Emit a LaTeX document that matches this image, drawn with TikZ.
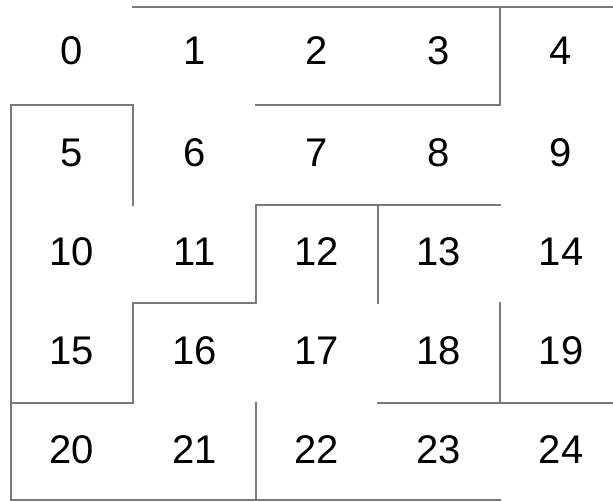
\documentclass[tikz,border=0pt]{standalone}
\usepackage{fontspec}
\setmainfont{Liberation Sans}
\begin{document}
\begin{tikzpicture}[x=1pt,y=-1pt,
  wall/.style={draw=black!52,line width=1.5pt,line cap=rect},
  num/.style={font=\fontsize{40}{40}\selectfont,text=black,inner sep=0pt}]
\useasboundingbox (0,0) rectangle (613,502);
% cells
\foreach \r/\yy in {0/51,1/153,2/252,3/351,4/450}{
  \foreach \c/\xx in {0/72,1/194.5,2/317,3/439,4/561}{
    \pgfmathtruncatemacro{\n}{\r*5+\c}
    \node[num] (c\n) at (\xx,\yy) {\n};
  }
}
% walls
\draw[wall] (133,7) -- (613,7);
\draw[wall] (500,7) -- (500,105) -- (256,105);
\draw[wall] (133,205) -- (133,105) -- (11,105) -- (11,500) -- (500,500);
\draw[wall] (11,403) -- (133,403) -- (133,303) -- (256,303) -- (256,205) -- (500,205);
\draw[wall] (378,205) -- (378,303);
\draw[wall] (500,303) -- (500,403);
\draw[wall] (378,403) -- (613,403);
\draw[wall] (256,403) -- (256,500);
\end{tikzpicture}
\end{document}
